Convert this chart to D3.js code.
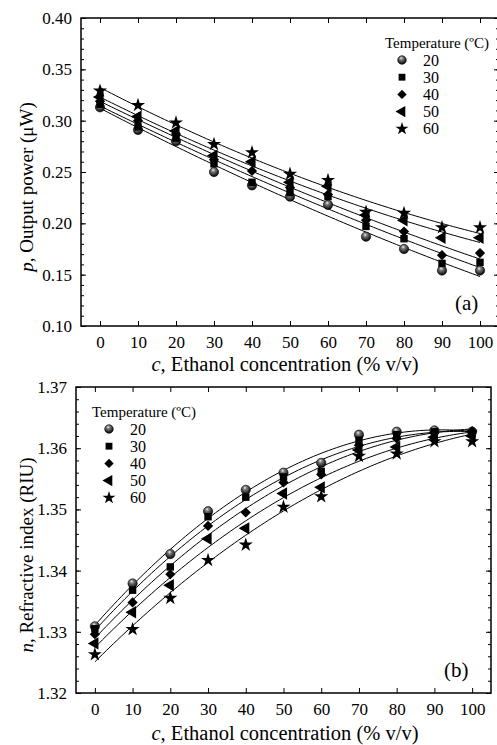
<!DOCTYPE html>
<html>
<head>
<meta charset="utf-8">
<script src="https://cdn.jsdelivr.net/npm/d3@7"></script>
<style>
  body { margin: 0; background: #fff; }
  .tick line { stroke: #000; stroke-width: 1; }
</style>
</head>
<body>
<div id="graph"></div>
<script>
// data
var conc = [0, 10, 20, 30, 40, 50, 60, 70, 80, 90, 100];
var temps = ["20", "30", "40", "50", "60"];

var power20 = [0.313, 0.291, 0.280, 0.250, 0.237, 0.226, 0.218, 0.187, 0.175, 0.154, 0.154];
var power30 = [0.316, 0.294, 0.283, 0.258, 0.240, 0.230, 0.226, 0.197, 0.185, 0.161, 0.162];
var power40 = [0.319, 0.300, 0.287, 0.262, 0.251, 0.235, 0.228, 0.203, 0.192, 0.169, 0.171];
var power50 = [0.323, 0.304, 0.290, 0.266, 0.260, 0.240, 0.236, 0.208, 0.203, 0.186, 0.186];
var power60 = [0.329, 0.315, 0.298, 0.277, 0.269, 0.248, 0.242, 0.211, 0.210, 0.196, 0.196];

var index20 = [1.3309, 1.3379, 1.3427, 1.3497, 1.3532, 1.3560, 1.3576, 1.3622, 1.3627, 1.3629, 1.3627];
var index30 = [1.3305, 1.3368, 1.3406, 1.3488, 1.3520, 1.3553, 1.3562, 1.3613, 1.3622, 1.3627, 1.3624];
var index40 = [1.3296, 1.3348, 1.3394, 1.3473, 1.3495, 1.3544, 1.3557, 1.3605, 1.3616, 1.3625, 1.3628];
var index50 = [1.3281, 1.3332, 1.3376, 1.3452, 1.3469, 1.3526, 1.3536, 1.3597, 1.3602, 1.3618, 1.3620];
var index60 = [1.3263, 1.3304, 1.3355, 1.3417, 1.3442, 1.3504, 1.3521, 1.3587, 1.3591, 1.3611, 1.3611];

var xTicks = [0, 10, 20, 30, 40, 50, 60, 70, 80, 90, 100];
var powerTicks = [0.10, 0.15, 0.20, 0.25, 0.30, 0.35, 0.40];
var indexTicks = [1.32, 1.33, 1.34, 1.35, 1.36, 1.37];

var W = 497, H = 745;
var FONT = "'Liberation Serif', 'DejaVu Serif', serif";

var svg = d3.select("#graph")
  .append("svg")
    .attr("width", W)
    .attr("height", H)
    .style("font-family", FONT);

var defs = svg.append("defs");
var grad = defs.append("radialGradient")
  .attr("id", "ball")
  .attr("cx", "0.45").attr("cy", "0.35").attr("r", "0.65")
  .attr("fx", "0.4").attr("fy", "0.28");
grad.append("stop").attr("offset", "0%").attr("stop-color", "#f0f0f0");
grad.append("stop").attr("offset", "30%").attr("stop-color", "#7a7a7a");
grad.append("stop").attr("offset", "100%").attr("stop-color", "#000");

// symbols for each temperature
var shapes = [
  {type: d3.symbolCircle, size: 68, rot: 0, fill: "url(#ball)"},
  {type: d3.symbolSquare, size: 55, rot: 0, fill: "#000"},
  {type: d3.symbolSquare, size: 52, rot: 45, fill: "#000"},
  {type: d3.symbolTriangle, size: 66, rot: -90, fill: "#000"},
  {type: d3.symbolStar, size: 62, rot: 0, fill: "#000"}
];

// least squares polynomial fit
function polyfit(xs, ys, deg) {
  var n = deg + 1, A = [], b = [];
  for (var i = 0; i < n; i++) {
    A.push([]);
    for (var j = 0; j < n; j++) A[i].push(d3.sum(xs, function(x) { return Math.pow(x, i + j); }));
    b.push(d3.sum(xs, function(x, k) { return ys[k] * Math.pow(x, i); }));
  }
  for (var c = 0; c < n; c++) {
    for (var r = c + 1; r < n; r++) {
      var f = A[r][c] / A[c][c];
      for (var k = c; k < n; k++) A[r][k] -= f * A[c][k];
      b[r] -= f * b[c];
    }
  }
  var coef = new Array(n);
  for (var r2 = n - 1; r2 >= 0; r2--) {
    var s = b[r2];
    for (var k2 = r2 + 1; k2 < n; k2++) s -= A[r2][k2] * coef[k2];
    coef[r2] = s / A[r2][r2];
  }
  return function(x) { return d3.sum(coef, function(cf, p) { return cf * Math.pow(x, p); }); };
}

function panel(opt) {
  var g = svg.append("g");
  var x = d3.scaleLinear().domain([-5, 105]).range([opt.left, opt.right]);
  var y = d3.scaleLinear().domain(opt.yDomain).range([opt.bottom, opt.top]);

  // axes, ticks pointing inward
  g.append("g").attr("transform", "translate(0," + opt.bottom + ")")
    .call(d3.axisBottom(x).tickValues(xTicks).tickSize(-5).tickPadding(10).tickFormat(d3.format("d")));
  g.append("g").attr("transform", "translate(0," + opt.top + ")")
    .call(d3.axisTop(x).tickValues(xTicks).tickSize(-5).tickFormat(""));
  g.append("g").attr("transform", "translate(" + opt.left + ",0)")
    .call(d3.axisLeft(y).tickValues(opt.yTicks).tickSize(-5).tickPadding(9).tickFormat(d3.format(opt.fmt)));
  g.append("g").attr("transform", "translate(" + opt.left + ",0)")
    .call(d3.axisLeft(y).tickValues(opt.yMinor).tickSize(-3).tickFormat(""));
  g.append("g").attr("transform", "translate(" + opt.right + ",0)")
    .call(d3.axisRight(y).tickValues(opt.yTicks).tickSize(-5).tickFormat(""));
  g.append("g").attr("transform", "translate(" + opt.right + ",0)")
    .call(d3.axisRight(y).tickValues(opt.yMinor).tickSize(-3).tickFormat(""));
  g.selectAll(".domain").remove();
  g.selectAll("g").attr("font-family", FONT).attr("font-size", 17);
  g.selectAll(".tick text").attr("fill", "#000");

  g.append("rect")
    .attr("x", opt.left).attr("y", opt.top)
    .attr("width", opt.right - opt.left).attr("height", opt.bottom - opt.top)
    .attr("fill", "none").attr("stroke", "#000").attr("stroke-width", 1.5);

  // fitted curves
  var line = d3.line().x(function(d) { return x(d[0]); }).y(function(d) { return y(d[1]); });
  opt.series.forEach(function(vals) {
    var fit = polyfit(conc, vals, 2);
    var pts = d3.range(0, 100.5, 1).map(function(c) { return [c, fit(c)]; });
    g.append("path").attr("d", line(pts))
      .attr("fill", "none").attr("stroke", "#000").attr("stroke-width", 1);
  });

  // markers
  opt.series.forEach(function(vals, i) {
    var s = shapes[i];
    g.append("g").selectAll("path")
      .data(vals)
      .enter().append("path")
        .attr("d", d3.symbol().type(s.type).size(s.size))
        .attr("transform", function(d, k) {
          return "translate(" + x(conc[k]) + "," + y(d) + ") rotate(" + s.rot + ")";
        })
        .attr("fill", s.fill)
        .attr("stroke", i == 0 ? "#000" : "none")
        .attr("stroke-width", 0.6);
  });

  // legend
  var lg = g.append("g");
  lg.append("text").attr("x", opt.legX).attr("y", opt.legY)
    .style("font-size", "15px").text("Temperature (\u00baC)");
  temps.forEach(function(t, i) {
    var s = shapes[i], yy = opt.legY + 12 + i * 17.2;
    lg.append("path")
      .attr("d", d3.symbol().type(s.type).size(s.size * 0.85))
      .attr("transform", "translate(" + (opt.legX + 17) + "," + yy + ") rotate(" + s.rot + ")")
      .attr("fill", s.fill)
      .attr("stroke", i == 0 ? "#000" : "none").attr("stroke-width", 0.6);
    lg.append("text").attr("x", opt.legX + 38).attr("y", yy + 5.5)
      .style("font-size", "16px").text(t);
  });

  // panel letter
  g.append("text").attr("x", opt.letX).attr("y", opt.letY)
    .style("font-size", "21px").text(opt.letter);

  // axis titles
  var xt = g.append("text").attr("x", 285).attr("y", opt.xTitleY)
    .attr("text-anchor", "middle").style("font-size", "20.5px");
  xt.append("tspan").style("font-style", "italic").text("c");
  xt.append("tspan").text(", Ethanol concentration (% v/v)");

  var yt = g.append("text")
    .attr("transform", "translate(33," + ((opt.top + opt.bottom) / 2 + 15) + ") rotate(-90)")
    .attr("text-anchor", "middle").style("font-size", "19px");
  yt.append("tspan").style("font-style", "italic").text(opt.yVar);
  yt.append("tspan").text(opt.yTitle);
}

panel({
  left: 81, right: 499, top: 18, bottom: 326,
  yDomain: [0.10, 0.40], yTicks: powerTicks, fmt: ".2f",
  yMinor: d3.range(10, 41, 1).map(function(v) { return v / 100; }),
  series: [power20, power30, power40, power50, power60],
  legX: 385, legY: 48, letter: "(a)", letX: 455, letY: 310, xTitleY: 371,
  yVar: "p", yTitle: ", Output power (\u03bcW)"
});

panel({
  left: 76, right: 491, top: 387, bottom: 693,
  yDomain: [1.32, 1.37], yTicks: indexTicks, fmt: ".2f",
  yMinor: d3.range(660, 686, 1).map(function(v) { return v / 500; }),
  series: [index20, index30, index40, index50, index60],
  legX: 92, legY: 417, letter: "(b)", letX: 444, letY: 677, xTitleY: 740,
  yVar: "n", yTitle: ", Refractive index (RIU)"
});
</script>
</body>
</html>
